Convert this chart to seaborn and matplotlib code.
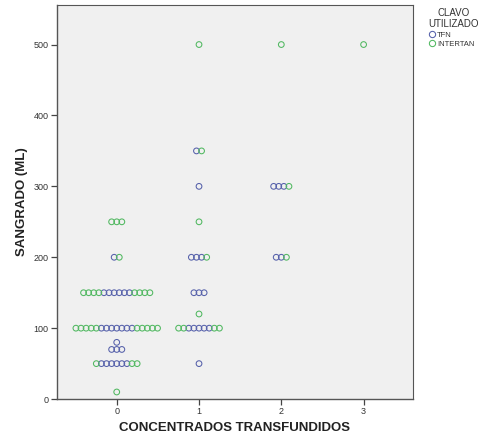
import numpy as np
import pandas as pd
import matplotlib
matplotlib.use("Agg")
import matplotlib.pyplot as plt
from matplotlib.lines import Line2D
import seaborn as sns

# Observations: transfused units (x) and blood loss in ml (y) per nail type
tfn_concentrados = [0, 0, 0, 0, 0, 0, 0, 0, 0, 0, 0, 0, 0, 0, 0, 0, 0, 0, 0, 0, 0, 0, 0, 0,
                    1, 1, 1, 1, 1, 1, 1, 1, 1, 1, 1, 1, 1, 1,
                    2, 2, 2, 2, 2]
tfn_sangrado = [200,
                150, 150, 150, 150, 150, 150,
                100, 100, 100, 100, 100, 100, 100,
                80,
                70, 70, 70,
                50, 50, 50, 50, 50, 50,
                350, 300,
                200, 200, 200,
                150, 150, 150,
                100, 100, 100, 100, 100,
                50,
                300, 300, 300,
                200, 200]

intertan_concentrados = [0, 0, 0, 0, 0, 0, 0, 0, 0, 0, 0, 0, 0, 0, 0, 0, 0, 0, 0, 0, 0, 0, 0, 0, 0, 0,
                         1, 1, 1, 1, 1, 1, 1, 1, 1,
                         2, 2, 2,
                         3]
intertan_sangrado = [250, 250, 250,
                     200,
                     150, 150, 150, 150, 150, 150, 150, 150,
                     100, 100, 100, 100, 100, 100, 100, 100, 100, 100,
                     50, 50, 50,
                     10,
                     500, 350, 250, 200, 120,
                     100, 100, 100, 100,
                     500, 300, 200,
                     500]

series_names = ["TFN", "INTERTAN"]
series_colors = ["#5560aa", "#50b860"]

df = pd.concat([
    pd.DataFrame({"conc": tfn_concentrados, "ml": tfn_sangrado, "clavo": "TFN"}),
    pd.DataFrame({"conc": intertan_concentrados, "ml": intertan_sangrado, "clavo": "INTERTAN"}),
], ignore_index=True)

# Side-by-side dot placement: points sharing a value are spread around the
# category, filled from the centre outwards (TFN first, then INTERTAN).
step = 0.062
df["order"] = df["clavo"].map({n: i for i, n in enumerate(series_names)})
df = df.sort_values(["conc", "ml", "order"], kind="stable").reset_index(drop=True)
offsets = np.zeros(len(df))
for _, idx in df.groupby(["conc", "ml"]).groups.items():
    n = len(idx)
    c = (n - 1) / 2
    slots = sorted(range(n), key=lambda j: (abs(j - c), j))
    for k, i in enumerate(idx):
        offsets[i] = (slots[k] - c) * step
df["pos"] = df["conc"] + offsets

plt.rcParams["font.family"] = ["Liberation Sans", "DejaVu Sans"]
fig = plt.figure(figsize=(4.87, 4.40), dpi=100)
ax = fig.add_axes([0.117, 0.093, 0.731, 0.896])
ax.set_facecolor("#f0f0f0")

for name, color in zip(series_names, series_colors):
    sub = df[df["clavo"] == name]
    sns.scatterplot(data=sub, x="pos", y="ml", ax=ax, marker="o", s=17,
                    facecolor="none", edgecolor=color, linewidth=0.75,
                    legend=False, zorder=3)

ax.set_xlim(-0.726, 3.60)
ax.set_ylim(0, 556)
ax.set_xticks([0, 1, 2, 3])
ax.set_yticks([0, 100, 200, 300, 400, 500])
ax.tick_params(axis="both", direction="out", length=4, width=0.9,
               color="#444444", labelsize=6.5, labelcolor="#333333", pad=2)
for side, sp in ax.spines.items():
    sp.set_color("#555555")
    sp.set_linewidth(1.0 if side in ("left", "bottom") else 0.8)

ax.set_xlabel("CONCENTRADOS TRANSFUNDIDOS", fontsize=9.5, fontweight="bold",
              color="#222222", labelpad=4)
ax.set_ylabel("SANGRADO (ML)", fontsize=9.5, fontweight="bold",
              color="#222222", labelpad=4)

handles = [Line2D([], [], linestyle="none", marker="o", markersize=4.5,
                  markerfacecolor="none", markeredgecolor=c, markeredgewidth=0.75)
           for c in series_colors]
leg = ax.legend(handles, series_names, title="CLAVO\nUTILIZADO",
                loc="upper left", bbox_to_anchor=(1.035, 1.0), frameon=False,
                fontsize=5.5, title_fontsize=7, handletextpad=0.1,
                handlelength=1.0, labelspacing=0.25, borderaxespad=0.0,
                alignment="center")
leg.get_title().set_color("#333333")
leg.get_title().set_multialignment("center")
leg._legend_box.align = "left"
for t in leg.get_texts():
    t.set_color("#333333")

fig.savefig("out.png", dpi=100, facecolor="white")
